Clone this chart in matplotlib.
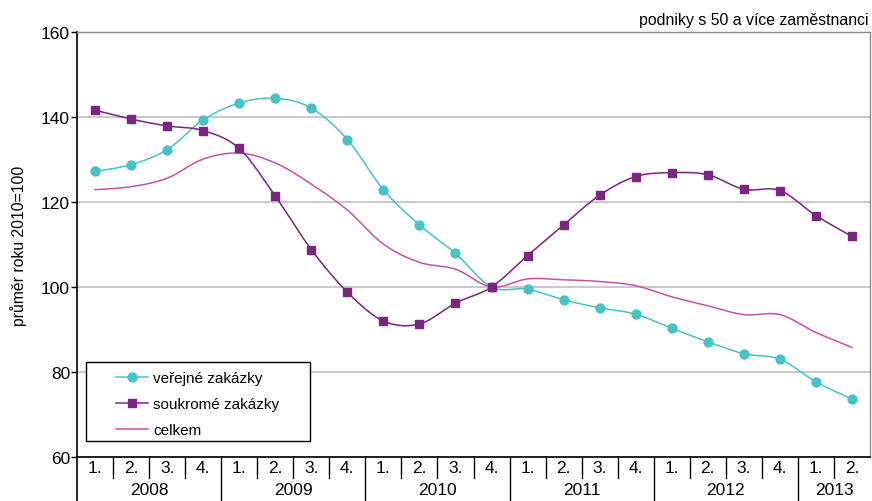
import numpy as np
import matplotlib.pyplot as plt
from matplotlib.patches import Rectangle

plt.rcParams['font.family'] = ['Liberation Sans', 'DejaVu Sans']

# index values, quarters 2008Q1 .. 2013Q2 (prumer roku 2010 = 100)
years = ['2008', '2009', '2010', '2011', '2012', '2013']
quarters_per_year = [4, 4, 4, 4, 4, 2]
quarter_labels = ['1.', '2.', '3.', '4.']

verejne = [127.2, 128.8, 132.3, 139.3, 143.3, 144.4, 142.1, 134.7, 122.9, 114.6, 107.9, 100.0,
           99.5, 97.0, 95.1, 93.6, 90.3, 87.1, 84.3, 83.0, 77.7, 73.6]
soukrome = [141.6, 139.5, 137.9, 136.8, 132.6, 121.4, 108.8, 98.8, 92.0, 91.3, 96.2, 100.0,
            107.4, 114.6, 121.6, 126.0, 126.9, 126.4, 123.0, 122.7, 116.8, 111.9]
celkem = [122.9, 123.6, 125.6, 130.1, 131.5, 129.2, 124.2, 118.1, 110.1, 105.8, 104.2, 100.0,
          101.9, 101.7, 101.3, 100.3, 97.7, 95.6, 93.5, 93.5, 89.3, 85.8]

c_ver = '#47c3c6'
c_sou = '#7b2480'
c_cel = '#c453a8'


def smooth(x, y, n=24):
    # Excel-like smoothed line (bezier through the points)
    p = np.column_stack([x, y]).astype(float)
    out = []
    t = np.linspace(0, 1, n)[:, None]
    for i in range(len(p) - 1):
        p0 = p[i - 1] if i > 0 else p[i]
        p1 = p[i]
        p2 = p[i + 1]
        p3 = p[i + 2] if i + 2 < len(p) else p[i + 1]
        c1 = p1 + (p2 - p0) / 6
        c2 = p2 - (p3 - p1) / 6
        seg = (1 - t) ** 3 * p1 + 3 * (1 - t) ** 2 * t * c1 + 3 * (1 - t) * t ** 2 * c2 + t ** 3 * p2
        out.append(seg if i == 0 else seg[1:])
    s = np.vstack(out)
    return s[:, 0], s[:, 1]


nq = len(verejne)
x = np.arange(nq) + 0.5

fig = plt.figure(figsize=(8.72, 5.02), dpi=100)
ax = fig.add_axes([77 / 872, 44 / 502, 793 / 872, 425 / 502])

for vals, col, mk, ms in [(celkem, c_cel, None, 0), (verejne, c_ver, 'o', 6.4), (soukrome, c_sou, 's', 6.4)]:
    sx, sy = smooth(x, vals)
    ax.plot(sx, sy, color=col, lw=1.1, zorder=3)
    if mk:
        ax.plot(x, vals, ls='none', marker=mk, ms=ms, color=col, mec=col, zorder=4)

ax.set_xlim(0, nq)
ax.set_ylim(60, 160)
ax.set_yticks([60, 80, 100, 120, 140, 160])
ax.yaxis.grid(True, color='#c0c0c0', lw=1.2)
ax.set_axisbelow(True)
ax.tick_params(axis='y', labelsize=12.5, length=4, width=1, pad=1)
ax.set_xticks([])
for s in ['top', 'right']:
    ax.spines[s].set_color('#8c8c8c')
    ax.spines[s].set_linewidth(1.0)
for s in ['left', 'bottom']:
    ax.spines[s].set_color('black')
    ax.spines[s].set_linewidth(1.2)

ax.set_ylabel('průměr roku 2010=100', fontsize=11.3, labelpad=10)

# two-level category axis
tr = ax.get_xaxis_transform()
q_bottom = -21 / 425
y_bottom = -45 / 425
pos = 0
for yr, nyq in zip(years, quarters_per_year):
    for k in range(nyq):
        ax.text(pos + k + 0.5, -11 / 425, quarter_labels[k], transform=tr, ha='center', va='center',
                fontsize=12.5)
        if k > 0:
            ax.plot([pos + k, pos + k], [0, q_bottom], transform=tr, color='black', lw=1.0, clip_on=False)
    ax.text(pos + nyq / 2, -33 / 425, yr, transform=tr, ha='center', va='center', fontsize=12.5)
    if pos > 0:
        ax.plot([pos, pos], [0, y_bottom], transform=tr, color='black', lw=1.0, clip_on=False)
    pos += nyq
ax.plot([0, 0], [0, y_bottom], transform=tr, color='black', lw=1.2, clip_on=False)

# legend
ax.add_patch(Rectangle((9 / 793, 16 / 425), 224 / 793, 79 / 425, transform=ax.transAxes,
                       fill=True, facecolor='white', edgecolor='black', lw=1.0, zorder=5))
h1, = ax.plot([], [], color=c_ver, marker='o', ms=6.4, lw=1.1)
h2, = ax.plot([], [], color=c_sou, marker='s', ms=6.4, lw=1.1)
h3, = ax.plot([], [], color=c_cel, lw=1.1)
leg = ax.legend([h1, h2, h3], ['veřejné zakázky', 'soukromé zakázky', 'celkem'],
                loc='center left', bbox_to_anchor=(39 / 793, 53 / 425), frameon=False,
                borderpad=0, borderaxespad=0, fontsize=11, handlelength=2.1,
                handletextpad=0.35, labelspacing=0.78)
leg.set_zorder(6)

fig.text(868 / 872, 1 - 20 / 502, 'podniky s 50 a více zaměstnanci', ha='right', va='center', fontsize=11.4)

fig.savefig('out.png', dpi=100)
